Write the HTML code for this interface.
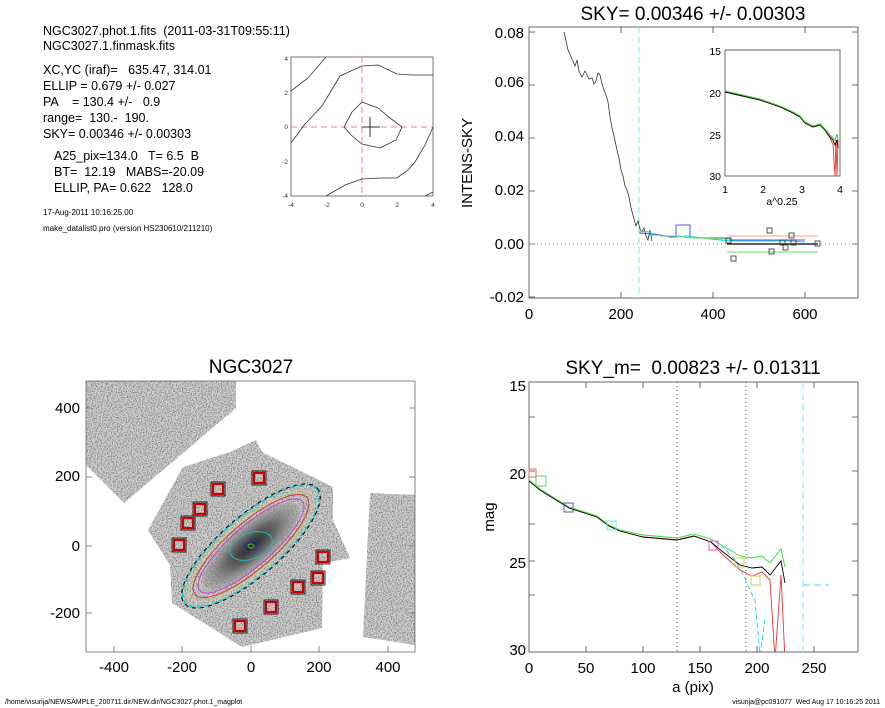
<!DOCTYPE html>
<html><head><meta charset="utf-8"><style>
body{margin:0;background:#fff;width:885px;height:708px;overflow:hidden;position:relative}
svg{font-family:"Liberation Sans",sans-serif;position:absolute;left:0;top:0}
svg text{white-space:pre}
</style></head><body>
<svg width="885" height="708" viewBox="0 0 885 708" xmlns="http://www.w3.org/2000/svg" xml:space="preserve">
<g font-size="12.5" fill="#000">
<text x="43" y="35">NGC3027.phot.1.fits  (2011-03-31T09:55:11)</text>
<text x="43" y="50">NGC3027.1.finmask.fits</text>
<text x="43" y="74">XC,YC (iraf)=   635.47, 314.01</text>
<text x="43" y="90">ELLIP = 0.679 +/- 0.027</text>
<text x="43" y="106">PA    = 130.4 +/-   0.9</text>
<text x="43" y="122">range=  130.-  190.</text>
<text x="43" y="138">SKY= 0.00346 +/- 0.00303</text>
<text x="54" y="160">A25_pix=134.0   T= 6.5  B</text>
<text x="54" y="176">BT=  12.19   MABS=-20.09</text>
<text x="54" y="192">ELLIP, PA= 0.622   128.0</text>
</g>
<text x="43" y="215" font-size="8">17-Aug-2011 10:16:25.00</text>
<text x="43" y="231" font-size="8">make_datalist0.pro (version HS230610/211210)</text>
<rect x="291" y="57" width="142" height="139" fill="none" stroke="#555" stroke-width="0.8"/>
<line x1="291" y1="127" x2="433" y2="127" stroke="#f08080" stroke-dasharray="6,4"/>
<line x1="362" y1="57" x2="362" y2="196" stroke="#f08080" stroke-dasharray="6,4"/>
<g fill="none" stroke="#333" stroke-width="0.8">
<path d="M291,91 L308,78 L326,57"/>
<path d="M291,143 L305,124 L322,106 L340,76 L362,66 L378,65 L397,74 L412,75 L433,75"/>
<path d="M362,102 L378,108 L390,118 L402,127 L396,140 L380,148 L362,144 L351,135 L344,127 L352,112 Z"/>
<path d="M326,196 L345,185 L362,179 L380,178 L397,178 L408,170 L415,162 L425,145 L433,127"/>
<path d="M425,196 L433,192"/>
</g>
<line x1="362" y1="127" x2="380" y2="127" stroke="#333"/>
<line x1="370" y1="117" x2="370" y2="137" stroke="#333"/>
<g font-size="6.5" fill="#333" text-anchor="middle">
<text x="291" y="207">-4</text><text x="327" y="207">-2</text><text x="362" y="207">0</text><text x="397" y="207">2</text><text x="433" y="207">4</text>
</g>
<g font-size="6.5" fill="#333" text-anchor="end">
<text x="288" y="61">4</text><text x="288" y="95">2</text><text x="288" y="129">0</text><text x="288" y="164">-2</text><text x="288" y="198">-4</text>
</g>
</svg>

<svg width="885" height="708" viewBox="0 0 885 708" xmlns="http://www.w3.org/2000/svg">
<defs><clipPath id="clipTR"><rect x="529" y="27" width="329" height="271"/></clipPath></defs>
<text x="693" y="20" font-size="19" text-anchor="middle">SKY= 0.00346 +/- 0.00303</text>
<rect x="529" y="27" width="329" height="271" fill="none" stroke="#444" stroke-width="0.8"/>
<g font-size="15" text-anchor="end">
<text x="524" y="38">0.08</text><text x="524" y="87">0.06</text><text x="524" y="141">0.04</text><text x="524" y="195">0.02</text><text x="524" y="249">0.00</text><text x="524" y="302">-0.02</text>
</g>
<g font-size="15" text-anchor="middle">
<text x="529" y="319">0</text><text x="621" y="319">200</text><text x="713" y="319">400</text><text x="805" y="319">600</text>
</g>
<text transform="translate(472,163) rotate(-90)" font-size="15" text-anchor="middle">INTENS-SKY</text>
<g stroke="#444" stroke-width="0.8">
<path d="M529,32h6M529,85h6M529,138h6M529,191h6M529,244h6M529,297h6M852,32h6M852,85h6M852,138h6M852,191h6M852,244h6M621,298v-6M713,298v-6M805,298v-6M621,27v6M713,27v6M805,27v6"/>
</g>
<line x1="529" y1="244" x2="858" y2="244" stroke="#888" stroke-dasharray="1,3"/>
<line x1="639" y1="27" x2="639" y2="298" stroke="#7ee" stroke-dasharray="6,4"/>
<g clip-path="url(#clipTR)">
<polyline fill="none" stroke="#333" stroke-width="0.8" points="564,32 568,50 572,59 575,66 577,60 579,71 582,77 585,71 589,79 592,78 594,84 596,81 598,73 600,75 602,84 604,90 606,95 608,102 610,117 612,128 614,136 617,150 619,158 621,170 623,176 625,186 627,190 629,197 631,208 634,219 636,226 638,221 640,229 642,232 644,228 646,236 648,240 650,230 652,241"/>
</g>
<g fill="none" stroke-width="1">
<polyline stroke="#0dd" points="639,231 650,232 650,235 660,235 675,237 687,236 710,239 730,241 790,241 805,242"/>
<polyline stroke="#55d" points="639,233 655,234 670,237 676,237 676,225 690,225 690,238 730,238 730,240 800,240 805,240"/>
<polyline stroke="#7d7" points="660,236 680,236 690,238 730,239"/>
<line x1="727" y1="236" x2="818" y2="236" stroke="#f99"/>
<line x1="727" y1="252" x2="818" y2="252" stroke="#6d6"/>
<line x1="727" y1="244" x2="818" y2="244" stroke="#000" stroke-width="1.3"/>
</g>
<g fill="none" stroke="#444" stroke-width="0.9">
<rect x="726" y="238" width="5" height="5"/><rect x="731" y="256" width="5" height="5"/><rect x="767" y="228" width="5" height="5"/><rect x="769" y="249" width="5" height="5"/><rect x="780" y="240" width="5" height="5"/><rect x="783" y="245" width="5" height="5"/><rect x="789" y="233" width="5" height="5"/><rect x="791" y="240" width="5" height="5"/><rect x="815" y="241" width="5" height="5"/>
</g>
<rect x="725" y="50" width="115" height="126" fill="#fff" stroke="#444" stroke-width="0.8"/>
<g font-size="10.5" text-anchor="end"><text x="721" y="55">15</text><text x="721" y="97">20</text><text x="721" y="139">25</text><text x="721" y="180">30</text></g>
<g font-size="10.5" text-anchor="middle"><text x="725" y="193">1</text><text x="763" y="193">2</text><text x="802" y="193">3</text><text x="840" y="193">4</text><text x="782" y="205">a^0.25</text></g>
<g fill="none" stroke-width="0.9">
<polyline stroke="#e33" points="725,92 760,100 780,107 793,113 800,117 805,123 813,127 820,125 825,130 830,138 833,144 835,176 836,140 837,176 838,140"/>
<polyline stroke="#000" points="725,92 760,100 780,107 793,113 800,117 805,123 813,127 820,125 825,130 830,137 833,140 835,145 837,140 838,148"/>
<polyline stroke="#2c2" points="725,91 760,99 780,106 793,112 800,116 805,122 813,126 820,124 825,129 830,135 833,138 835,140 837,134 838,140"/>
</g>
</svg>

<svg width="885" height="708" viewBox="0 0 885 708" xmlns="http://www.w3.org/2000/svg">
<defs>
<filter id="speck" x="0" y="0" width="1" height="1" filterUnits="objectBoundingBox">
<feTurbulence type="fractalNoise" baseFrequency="0.8" numOctaves="1" seed="3" result="t"/>
<feColorMatrix in="t" type="matrix" values="0 0 0 0 0.25  0 0 0 0 0.25  0 0 0 0 0.25  4 0 0 0 -1.7" result="d"/>
<feComposite in="d" in2="SourceAlpha" operator="in" result="m"/>
<feMerge><feMergeNode in="SourceGraphic"/><feMergeNode in="m"/></feMerge>
</filter>
<clipPath id="clipBL"><rect x="86" y="381" width="329" height="271"/></clipPath>
<radialGradient id="gal" cx="0.5" cy="0.5" r="0.5"><stop offset="0" stop-color="#222"/><stop offset="0.5" stop-color="#666"/><stop offset="1" stop-color="#888" stop-opacity="0.3"/></radialGradient>
</defs>
<text x="251" y="373" font-size="19" text-anchor="middle">NGC3027</text>
<g clip-path="url(#clipBL)">
<g filter="url(#speck)" fill="#d0d0d0">
<polygon points="86,381 236,381 236,408 124,503 86,465"/>
<polygon points="256,440 262,452 333,487 333,520 350,558 323,563 322,628 242,647 172,603 170,565 148,530 183,467 230,452"/>
<polygon points="370,493 415,495 415,645 403,643 363,637"/>
</g>
<ellipse cx="251" cy="546" rx="62" ry="21" transform="rotate(-41 251 546)" fill="url(#gal)"/>
<g fill="none" stroke-width="1">
<ellipse cx="251" cy="546" rx="87" ry="29" transform="rotate(-41 251 546)" stroke="#0cc" stroke-dasharray="5,3" stroke-width="1.5"/>
<ellipse cx="251" cy="546" rx="88" ry="30" transform="rotate(-41 251 546)" stroke="#000" stroke-dasharray="4,4"/>
<ellipse cx="251" cy="546" rx="80" ry="25" transform="rotate(-41 251 546)" stroke="#cc8"/>
<ellipse cx="251" cy="546" rx="74" ry="23" transform="rotate(-41 251 546)" stroke="#c42"/>
<ellipse cx="251" cy="546" rx="68" ry="20" transform="rotate(-41 251 546)" stroke="#c4c"/>
<ellipse cx="251" cy="546" rx="22" ry="13" transform="rotate(-20 251 546)" stroke="#2bb"/>
<ellipse cx="251" cy="546" rx="8" ry="5" transform="rotate(-20 251 546)" stroke="#33b"/>
<ellipse cx="251" cy="546" rx="3" ry="2" stroke="#3c3"/>
</g>
<g stroke="#c00" stroke-width="2.2" fill="none">
<rect x="254" y="473" width="10" height="10"/><rect x="213" y="484" width="10" height="10"/><rect x="195" y="504" width="10" height="10"/><rect x="183" y="518" width="10" height="10"/><rect x="174" y="540" width="10" height="10"/><rect x="318" y="552" width="10" height="10"/><rect x="313" y="573" width="10" height="10"/><rect x="293" y="582" width="10" height="10"/><rect x="266" y="602" width="10" height="10"/><rect x="235" y="621" width="10" height="10"/>
</g>
<g fill="none" stroke="#000" stroke-width="0.8">
<rect x="252" y="471" width="14" height="14"/><rect x="211" y="482" width="14" height="14"/><rect x="193" y="502" width="14" height="14"/><rect x="181" y="516" width="14" height="14"/><rect x="172" y="538" width="14" height="14"/><rect x="316" y="550" width="14" height="14"/><rect x="311" y="571" width="14" height="14"/><rect x="291" y="580" width="14" height="14"/><rect x="264" y="600" width="14" height="14"/><rect x="233" y="619" width="14" height="14"/>
</g>
</g>
<rect x="86" y="381" width="329" height="271" fill="none" stroke="#666" stroke-width="0.8"/>
<g stroke="#666" stroke-width="0.8"><path d="M86,408h6M86,477h6M86,546h6M86,613h6M409,408h6M409,477h6M409,546h6M409,613h6M114,652v-6M182,652v-6M251,652v-6M319,652v-6M388,652v-6"/></g>
<g font-size="15" text-anchor="end"><text x="80" y="413">400</text><text x="80" y="481">200</text><text x="80" y="551">0</text><text x="80" y="618">-200</text></g>
<g font-size="15" text-anchor="middle"><text x="114" y="672">-400</text><text x="182" y="672">-200</text><text x="251" y="672">0</text><text x="319" y="672">200</text><text x="388" y="672">400</text></g>
<text x="5" y="704" font-size="7">/home/visurija/NEWSAMPLE_200711.dir/NEW.dir/NGC3027.phot.1_magplot</text>
</svg>

<svg width="885" height="708" viewBox="0 0 885 708" xmlns="http://www.w3.org/2000/svg">
<defs><clipPath id="clipBR"><rect x="529" y="382" width="329" height="270"/></clipPath></defs>
<text x="693" y="374" font-size="19" text-anchor="middle" xml:space="preserve">SKY_m=  0.00823 +/- 0.01311</text>
<rect x="529" y="382" width="329" height="270" fill="none" stroke="#444" stroke-width="0.8"/>
<g font-size="15" text-anchor="end"><text x="526" y="391">15</text><text x="526" y="479">20</text><text x="526" y="568">25</text><text x="526" y="655">30</text></g>
<g font-size="15" text-anchor="middle"><text x="529" y="673">0</text><text x="586" y="673">50</text><text x="643" y="673">100</text><text x="700" y="673">150</text><text x="757" y="673">200</text><text x="814" y="673">250</text><text x="693" y="692">a (pix)</text></g>
<text transform="translate(494,517) rotate(-90)" font-size="15" text-anchor="middle">mag</text>
<g stroke="#444" stroke-width="0.8"><path d="M529,417h6M529,471h6M529,524h6M529,561h6M529,595h6M852,417h6M852,471h6M852,524h6M852,561h6M852,595h6M586,652v-6M643,652v-6M700,652v-6M757,652v-6M814,652v-6M586,382v6M643,382v6M700,382v6M757,382v6M814,382v6"/></g>
<line x1="677" y1="382" x2="677" y2="652" stroke="#555" stroke-dasharray="1,3"/>
<line x1="746" y1="382" x2="746" y2="652" stroke="#555" stroke-dasharray="1,3"/>
<line x1="803" y1="382" x2="803" y2="652" stroke="#7ee" stroke-dasharray="7,4"/>
<line x1="803" y1="585" x2="829" y2="585" stroke="#7ee" stroke-width="1.5" stroke-dasharray="7,4"/>
<g clip-path="url(#clipBR)" fill="none" stroke-width="0.9">
<polyline stroke="#0dd" stroke-dasharray="5,3" points="721,545 735,560 745,578 750,590 755,600 760,655 765,620"/>
<polyline stroke="#e33" points="529,481 540,490 569,508 597,517 609,526 620,531 643,537 677,540 694,536 711,542 723,555 740,570 752,576 762,572 770,580 775,660 781,575 785,660"/>
<polyline stroke="#000" points="529,481 540,490 569,508 597,517 609,526 620,531 643,537 677,540 694,536 711,542 723,552 740,565 752,568 762,567 770,575 781,561 785,583"/>
<polyline stroke="#3d3" points="529,480 540,489 569,507 597,516 609,525 620,530 643,535 677,538 694,534 711,539 723,546 740,556 752,558 762,556 770,563 781,549 785,567"/>
</g>
<g fill="none" stroke-width="1">
<rect x="529" y="469" width="7" height="8" stroke="#e66"/>
<rect x="536" y="476" width="10" height="10" stroke="#6c6"/>
<rect x="564" y="503" width="9" height="9" stroke="#55c"/>
<rect x="607" y="521" width="9" height="9" stroke="#6ee"/>
<rect x="709" y="541" width="9" height="9" stroke="#d5d"/>
<rect x="735" y="558" width="9" height="9" stroke="#cc6"/>
<rect x="751" y="576" width="9" height="9" stroke="#cc6"/>
</g>
<text x="880" y="704" font-size="7" text-anchor="end">visurija@pc091077  Wed Aug 17 10:16:25 2011</text>
</svg>
</body></html>
